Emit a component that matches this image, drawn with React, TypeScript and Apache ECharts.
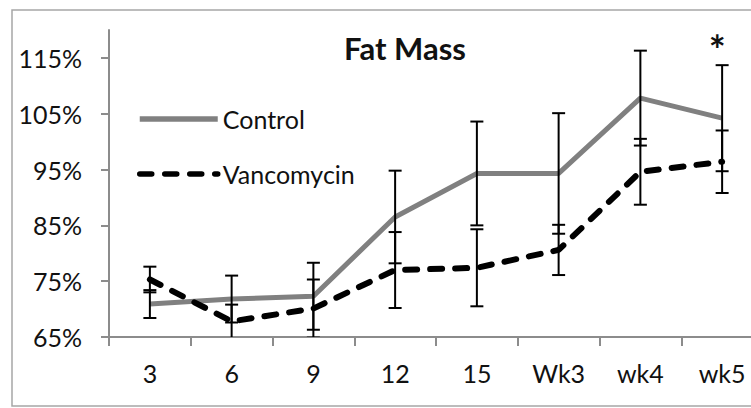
import React, { useEffect, useRef } from "react";
import * as echarts from "echarts";

// Time points and group means (% of baseline) with their error bar half-widths
const categories = ["3", "6", "9", "12", "15", "Wk3", "wk4", "wk5"];
const controlMean = [70.9, 71.8, 72.3, 86.5, 94.3, 94.3, 107.8, 104.2];
const controlErr = [2.5, 4.2, 6.0, 8.3, 9.3, 10.8, 8.5, 9.5];
const vancoMean = [75.3, 67.8, 70.1, 77.0, 77.4, 80.6, 94.6, 96.4];
const vancoErr = [2.3, 3.0, 5.2, 6.8, 6.9, 4.5, 5.9, 5.6];
// Time points marked as significantly different
const significant = [0, 0, 0, 0, 0, 0, 0, 1];
const yTicks = [65, 75, 85, 95, 105, 115];

const FONT = "Lato, 'Open Sans', sans-serif";
const AXIS_GRAY = "#8c8c8c";

function errorData(mean: number[], err: number[], flags?: number[]) {
  return mean.map((m, i) => [i, m - err[i], m + err[i], flags ? flags[i] : 0]);
}

function errorBarRenderer(params: any, api: any) {
  const i = api.value(0);
  const lo = api.value(1);
  const hi = api.value(2);
  const flag = api.value(3);
  const top = api.coord([i, hi]);
  const bot = api.coord([i, lo]);
  const x = top[0];
  const half = 6.5;
  const stroke = { stroke: "#000", lineWidth: 2 };
  const children: any[] = [
    { type: "line", shape: { x1: x, y1: top[1], x2: x, y2: bot[1] }, style: stroke },
    { type: "line", shape: { x1: x - half, y1: top[1], x2: x + half, y2: top[1] }, style: stroke },
    { type: "line", shape: { x1: x - half, y1: bot[1], x2: x + half, y2: bot[1] }, style: stroke },
  ];
  if (flag) {
    children.push({
      type: "text",
      x: x - 5,
      y: top[1] - 15,
      style: {
        text: "*",
        fontFamily: FONT,
        fontWeight: "bold",
        fontSize: 40,
        fill: "#111",
        align: "center",
        verticalAlign: "middle",
      },
    });
  }
  return { type: "group", children };
}

export default function App() {
  const ref = useRef<HTMLDivElement>(null);

  useEffect(() => {
    if (!ref.current) return;
    const chart = echarts.init(ref.current, null, { renderer: "svg" });
    chart.setOption({
      animation: false,
      backgroundColor: "#fff",
      title: {
        text: "Fat Mass",
        left: 344,
        top: 32,
        padding: 0,
        textStyle: { fontFamily: FONT, fontWeight: "bold", fontSize: 31, color: "#111" },
      },
      legend: {
        orient: "vertical",
        left: 137,
        top: 104,
        padding: 0,
        itemWidth: 78,
        itemHeight: 14,
        itemGap: 25,
        itemStyle: { opacity: 0, borderWidth: 0 },
        lineStyle: { width: 5.5 },
        textStyle: { fontFamily: FONT, fontSize: 25, color: "#111", lineHeight: 30 },
        data: ["Control", "Vancomycin"],
      },
      graphic: [
        {
          type: "rect",
          shape: { x: 12, y: 10, width: 780, height: 396 },
          style: { fill: "none", stroke: "#a6a6a6", lineWidth: 1.5 },
          silent: true,
          z: -1,
        },
      ],
      grid: {
        left: 109,
        top: 30,
        width: 654,
        height: 307,
        containLabel: false,
        outerBoundsMode: "none",
      },
      xAxis: {
        type: "category",
        data: categories,
        boundaryGap: true,
        axisLine: { lineStyle: { color: AXIS_GRAY, width: 2 } },
        axisTick: { show: true, length: 9, lineStyle: { color: AXIS_GRAY, width: 2 } },
        axisLabel: { fontFamily: FONT, fontSize: 25, color: "#111", margin: 23 },
      },
      yAxis: {
        type: "value",
        min: 65,
        max: 120,
        interval: 10,
        axisLine: { show: true, lineStyle: { color: AXIS_GRAY, width: 2 } },
        axisTick: {
          show: true,
          length: 8,
          customValues: yTicks,
          lineStyle: { color: AXIS_GRAY, width: 2 },
        },
        axisLabel: {
          fontFamily: FONT,
          fontSize: 25,
          color: "#111",
          margin: 27,
          customValues: yTicks,
          formatter: (v: number) => (v > 115 ? "" : v + "%"),
        },
        splitLine: { show: false },
      },
      series: [
        {
          name: "Control",
          type: "line",
          data: controlMean,
          symbol: "none",
          lineStyle: { color: "#808080", width: 5 },
          itemStyle: { color: "#808080" },
          z: 2,
        },
        {
          name: "Vancomycin",
          type: "line",
          data: vancoMean,
          symbol: "none",
          lineStyle: { color: "#000", width: 6, type: [12, 13], cap: "round" },
          itemStyle: { color: "#000" },
          z: 2,
        },
        {
          name: "Control error",
          type: "custom",
          renderItem: errorBarRenderer,
          data: errorData(controlMean, controlErr, significant),
          encode: { x: 0, y: [1, 2] },
          clip: true,
          z: 3,
        },
        {
          name: "Vancomycin error",
          type: "custom",
          renderItem: errorBarRenderer,
          data: errorData(vancoMean, vancoErr),
          encode: { x: 0, y: [1, 2] },
          clip: true,
          z: 3,
        },
      ],
    });
    return () => chart.dispose();
  }, []);

  return (
    <div
      ref={ref}
      style={{ position: "fixed", left: 0, top: 0, width: 751, height: 408 }}
    />
  );
}
